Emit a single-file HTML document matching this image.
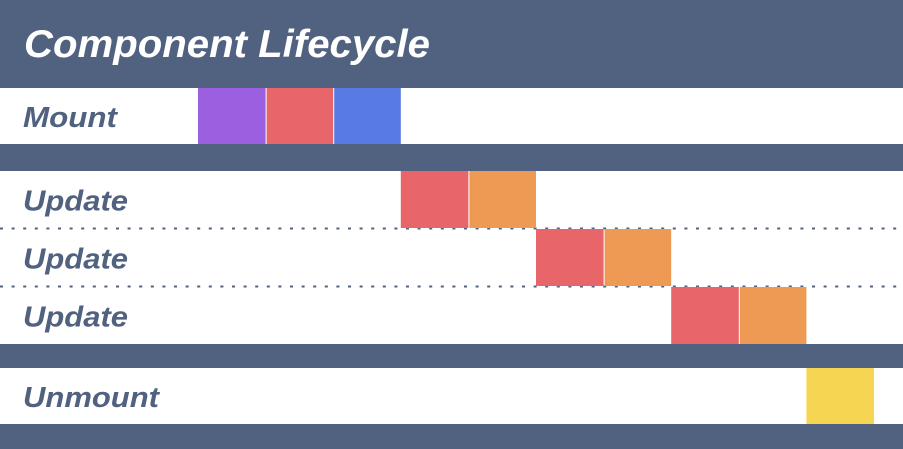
<!DOCTYPE html>
<html><head><meta charset="utf-8"><style>
html,body{margin:0;padding:0;background:#fff;}
svg{display:block;}
text{font-family:"Liberation Sans",sans-serif;font-weight:bold;font-style:italic;}
</style></head><body>
<svg id="chart" width="903" height="449" viewBox="0 0 903 449" xmlns="http://www.w3.org/2000/svg">
  <rect x="0" y="0" width="903" height="88" fill="#50627f"/>
  <text x="24" y="57" font-size="39" fill="#ffffff" textLength="406" lengthAdjust="spacingAndGlyphs">Component Lifecycle</text>
  <rect x="0" y="144" width="903" height="27" fill="#50627f"/>
  <rect x="0" y="344" width="903" height="24" fill="#50627f"/>
  <rect x="0" y="424" width="903" height="25" fill="#50627f"/>
  <line x1="0" y1="228.5" x2="903" y2="228.5" stroke="#50627f" stroke-width="2" stroke-dasharray="3 8.6"/>
  <line x1="0" y1="286.5" x2="903" y2="286.5" stroke="#50627f" stroke-width="2" stroke-dasharray="3 8.6"/>
  <g id="marks"></g>
</svg>
<script>
const rowLabels = ["Mount", "Update", "Update", "Update", "Unmount"];
const rowTops = [88, 171, 229, 287, 368];
const rowBottoms = [144, 228, 286, 344, 424];
const labelWidths = [94, 105, 105, 105, 136];
const blockRow = [0, 0, 0, 1, 1, 2, 2, 3, 3, 4];
const blockSlot = [0, 1, 2, 3, 4, 5, 6, 7, 8, 9];
const blockColor = ["#9b5fe0", "#e8666a", "#577ae3", "#e8666a", "#ee9a55", "#e8666a", "#ee9a55", "#e8666a", "#ee9a55", "#f6d553"];

const x0 = 198, slotW = 67.6;
function xScale(s){ return x0 + s * slotW; }
const g = document.getElementById('marks');
const NS = "http://www.w3.org/2000/svg";
rowLabels.forEach((lab, i) => {
  const t = document.createElementNS(NS, 'text');
  t.setAttribute('x', 23);
  t.setAttribute('y', (rowTops[i] + rowBottoms[i]) / 2 + 11);
  t.setAttribute('font-size', '29');
  t.setAttribute('fill', '#50627f');
  t.setAttribute('textLength', labelWidths[i]);
  t.setAttribute('lengthAdjust', 'spacingAndGlyphs');
  t.textContent = lab;
  
  
  g.appendChild(t);
});
blockSlot.forEach((s, i) => {
  const r = blockRow[i];
  const rect = document.createElementNS(NS, 'rect');
  const xa = xScale(s), xb = xScale(s + 1);
  rect.setAttribute('x', xa + (i > 0 && blockRow[i-1] === r ? 1 : 0));
  rect.setAttribute('y', rowTops[r]);
  rect.setAttribute('width', (xb - xa) - (i > 0 && blockRow[i-1] === r ? 1 : 0));
  rect.setAttribute('height', rowBottoms[r] - rowTops[r]);
  rect.setAttribute('fill', blockColor[i]);
  
  
  g.appendChild(rect);
});
</script>
</body></html>
